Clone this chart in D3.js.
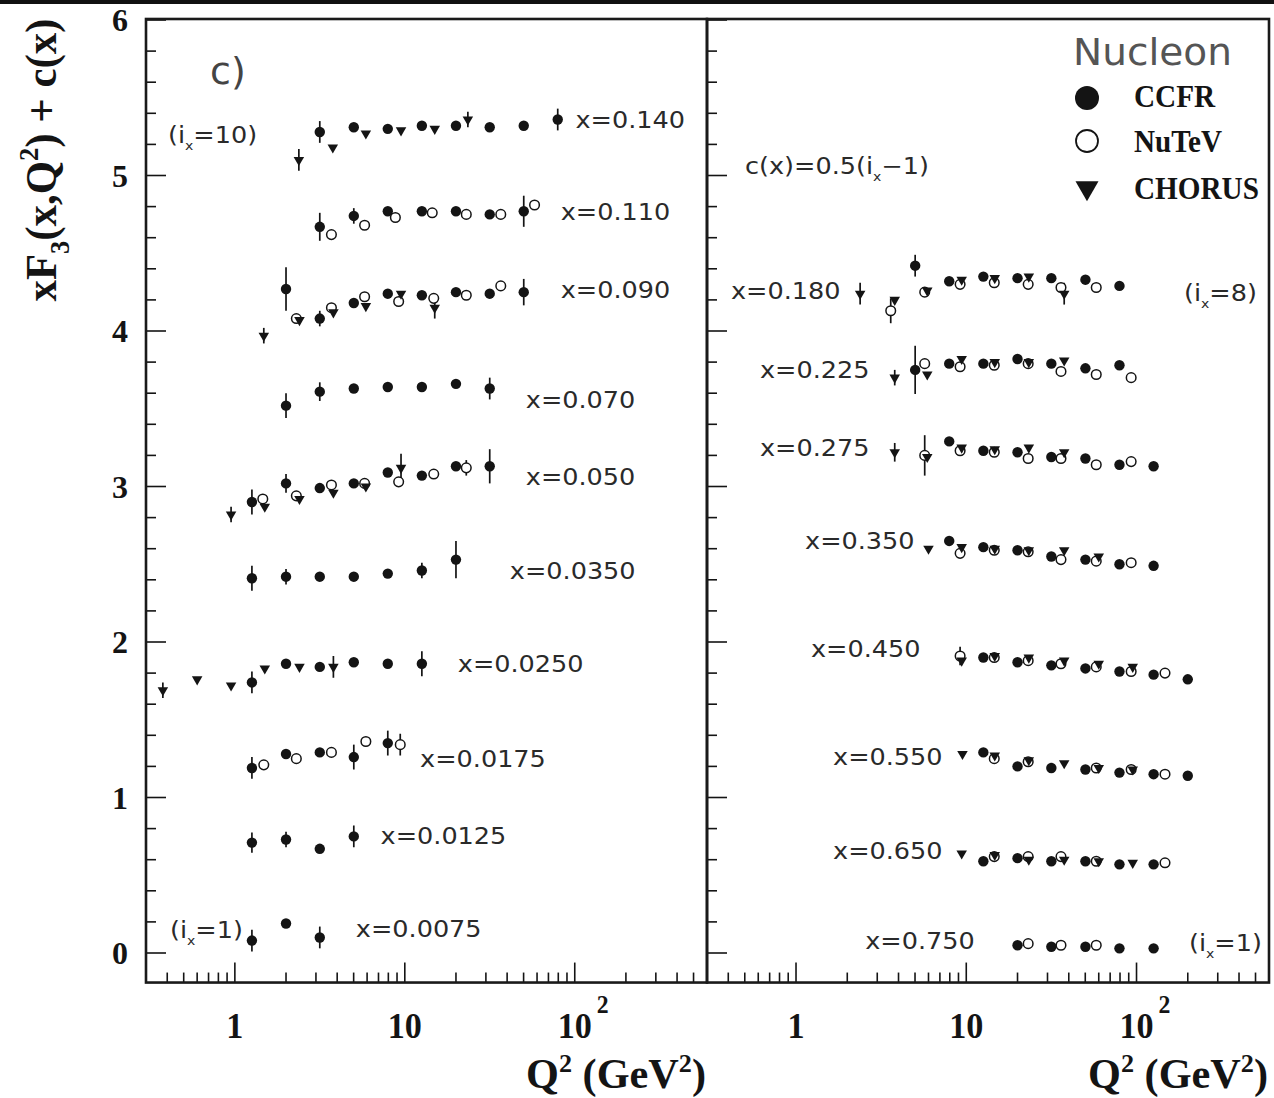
<!DOCTYPE html>
<html><head><meta charset="utf-8">
<script src="https://cdn.jsdelivr.net/npm/d3@7"></script>
<style>body{margin:0;background:#fff}svg{display:block}</style>
</head><body>
<svg id="chart" width="1274" height="1098"></svg>
<script>
// x bins shown in each panel (c(x) = 0.5 (i_x - 1) offset already applied to values)
const leftBins  = ["0.0075","0.0125","0.0175","0.0250","0.0350","0.050","0.070","0.090","0.110","0.140"];
const rightBins = ["0.750","0.650","0.550","0.450","0.350","0.275","0.225","0.180"];

// rows: [x bin, Q2 (GeV2), xF3 + c(x), error]
const ccfr = [
  ["0.140",3.16,5.28,0.07],["0.140",5.01,5.31,0.04],["0.140",7.94,5.30,0.02],["0.140",12.6,5.32,0.02],
  ["0.140",20.0,5.32,0.02],["0.140",31.6,5.31,0.02],["0.140",50.1,5.32,0.02],["0.140",79.4,5.36,0.07],
  ["0.110",3.16,4.67,0.09],["0.110",5.01,4.74,0.05],["0.110",7.94,4.77,0.02],["0.110",12.6,4.77,0.02],
  ["0.110",20.0,4.77,0.02],["0.110",31.6,4.75,0.02],["0.110",50.1,4.77,0.10],
  ["0.090",2.00,4.27,0.14],["0.090",3.16,4.08,0.05],["0.090",5.01,4.18,0.04],["0.090",7.94,4.24,0.04],
  ["0.090",12.6,4.23,0.03],["0.090",20.0,4.25,0.02],["0.090",31.6,4.24,0.04],["0.090",50.1,4.25,0.085],
  ["0.070",2.00,3.52,0.08],["0.070",3.16,3.61,0.06],["0.070",5.01,3.63,0.02],["0.070",7.94,3.64,0.02],
  ["0.070",12.6,3.64,0.02],["0.070",20.0,3.66,0.03],["0.070",31.6,3.63,0.07],
  ["0.050",1.26,2.90,0.08],["0.050",2.00,3.02,0.06],["0.050",3.16,2.99,0.02],["0.050",5.01,3.02,0.02],
  ["0.050",7.94,3.09,0.02],["0.050",12.6,3.07,0.02],["0.050",20.0,3.13,0.03],["0.050",31.6,3.13,0.11],
  ["0.0350",1.26,2.41,0.08],["0.0350",2.00,2.42,0.05],["0.0350",3.16,2.42,0.02],["0.0350",5.01,2.42,0.02],
  ["0.0350",7.94,2.44,0.02],["0.0350",12.6,2.46,0.05],["0.0350",20.0,2.53,0.12],
  ["0.0250",1.26,1.74,0.07],["0.0250",2.00,1.86,0.02],["0.0250",3.16,1.84,0.02],["0.0250",5.01,1.87,0.02],
  ["0.0250",7.94,1.86,0.02],["0.0250",12.6,1.86,0.08],
  ["0.0175",1.26,1.19,0.07],["0.0175",2.00,1.28,0.02],["0.0175",3.16,1.29,0.02],["0.0175",5.01,1.26,0.08],
  ["0.0175",7.94,1.35,0.08],
  ["0.0125",1.26,0.71,0.065],["0.0125",2.00,0.73,0.05],["0.0125",3.16,0.67,0.02],["0.0125",5.01,0.75,0.07],
  ["0.0075",1.26,0.08,0.07],["0.0075",2.00,0.19,0.045],["0.0075",3.16,0.10,0.07],
  ["0.180",5.01,4.42,0.07],["0.180",7.94,4.32,0.02],["0.180",12.6,4.35,0.02],["0.180",20.0,4.34,0.02],
  ["0.180",31.6,4.34,0.02],["0.180",50.1,4.33,0.02],["0.180",79.4,4.29,0.04],
  ["0.225",5.01,3.75,0.155],["0.225",7.94,3.79,0.02],["0.225",12.6,3.79,0.02],["0.225",20.0,3.82,0.02],
  ["0.225",31.6,3.79,0.02],["0.225",50.1,3.76,0.02],["0.225",79.4,3.78,0.02],
  ["0.275",7.94,3.29,0.04],["0.275",12.6,3.23,0.02],["0.275",20.0,3.22,0.02],["0.275",31.6,3.19,0.02],
  ["0.275",50.1,3.18,0.02],["0.275",79.4,3.14,0.02],["0.275",126,3.13,0.02],
  ["0.350",7.94,2.65,0.04],["0.350",12.6,2.61,0.02],["0.350",20.0,2.59,0.02],["0.350",31.6,2.55,0.02],
  ["0.350",50.1,2.53,0.02],["0.350",79.4,2.50,0.02],["0.350",126,2.49,0.02],
  ["0.450",12.6,1.90,0.02],["0.450",20.0,1.87,0.02],["0.450",31.6,1.85,0.02],["0.450",50.1,1.83,0.02],
  ["0.450",79.4,1.81,0.02],["0.450",126,1.79,0.02],["0.450",200,1.76,0.02],
  ["0.550",12.6,1.29,0.02],["0.550",20.0,1.20,0.02],["0.550",31.6,1.19,0.02],["0.550",50.1,1.18,0.02],
  ["0.550",79.4,1.16,0.02],["0.550",126,1.15,0.02],["0.550",200,1.14,0.02],
  ["0.650",12.6,0.59,0.02],["0.650",20.0,0.61,0.02],["0.650",31.6,0.59,0.02],["0.650",50.1,0.59,0.02],
  ["0.650",79.4,0.57,0.02],["0.650",126,0.57,0.02],
  ["0.750",20.0,0.05,0.02],["0.750",31.6,0.04,0.02],["0.750",50.1,0.04,0.02],["0.750",79.4,0.03,0.02],
  ["0.750",126,0.03,0.02]
];

const nutev = [
  ["0.110",3.7,4.62,0.03],["0.110",5.8,4.68,0.02],["0.110",8.8,4.73,0.02],["0.110",14.5,4.76,0.02],
  ["0.110",23.0,4.75,0.02],["0.110",36.7,4.75,0.02],["0.110",58.0,4.81,0.02],
  ["0.090",2.3,4.08,0.03],["0.090",3.7,4.15,0.03],["0.090",5.8,4.22,0.02],["0.090",9.2,4.19,0.02],
  ["0.090",14.8,4.21,0.02],["0.090",23.0,4.23,0.02],["0.090",36.7,4.29,0.02],
  ["0.050",1.46,2.92,0.03],["0.050",2.3,2.94,0.02],["0.050",3.7,3.01,0.02],["0.050",5.8,3.02,0.02],
  ["0.050",9.2,3.03,0.02],["0.050",14.8,3.08,0.02],["0.050",23.0,3.12,0.05],
  ["0.0175",1.48,1.21,0.02],["0.0175",2.3,1.25,0.02],["0.0175",3.7,1.29,0.02],["0.0175",5.9,1.36,0.02],
  ["0.0175",9.4,1.34,0.07],
  ["0.180",3.6,4.13,0.08],["0.180",5.7,4.25,0.02],["0.180",9.2,4.30,0.02],["0.180",14.6,4.31,0.02],
  ["0.180",23.1,4.30,0.02],["0.180",36.0,4.28,0.02],["0.180",58.0,4.28,0.02],
  ["0.225",5.7,3.79,0.03],["0.225",9.2,3.77,0.02],["0.225",14.6,3.78,0.02],["0.225",23.1,3.79,0.02],
  ["0.225",36.0,3.74,0.02],["0.225",58.0,3.72,0.02],["0.225",93.0,3.70,0.02],
  ["0.275",5.7,3.20,0.13],["0.275",9.2,3.23,0.02],["0.275",14.6,3.22,0.02],["0.275",23.1,3.18,0.02],
  ["0.275",36.0,3.18,0.02],["0.275",58.0,3.14,0.02],["0.275",93.0,3.16,0.02],
  ["0.350",9.2,2.57,0.02],["0.350",14.6,2.59,0.02],["0.350",23.1,2.58,0.02],["0.350",36.0,2.53,0.02],
  ["0.350",58.0,2.52,0.02],["0.350",93.0,2.51,0.02],
  ["0.450",9.2,1.91,0.06],["0.450",14.6,1.90,0.02],["0.450",23.1,1.88,0.02],["0.450",36.0,1.86,0.02],
  ["0.450",58.0,1.84,0.02],["0.450",93.0,1.81,0.02],["0.450",147,1.80,0.02],
  ["0.550",14.6,1.25,0.02],["0.550",23.1,1.23,0.02],["0.550",58.0,1.19,0.02],["0.550",93.0,1.18,0.02],
  ["0.550",147,1.15,0.02],
  ["0.650",14.6,0.62,0.02],["0.650",23.1,0.62,0.02],["0.650",36.0,0.62,0.02],["0.650",58.0,0.59,0.02],
  ["0.650",147,0.58,0.02],
  ["0.750",23.1,0.06,0.02],["0.750",36.0,0.05,0.02],["0.750",58.0,0.05,0.02]
];

const chorus = [
  ["0.140",2.38,5.10,0.07],["0.140",3.77,5.18,0.04],["0.140",5.9,5.27,0.04],["0.140",9.5,5.29,0.03],
  ["0.140",15.0,5.30,0.03],["0.140",23.5,5.36,0.05],
  ["0.090",1.48,3.97,0.05],["0.090",2.4,4.07,0.04],["0.090",3.8,4.12,0.04],["0.090",5.9,4.16,0.04],
  ["0.090",9.5,4.24,0.03],["0.090",15.0,4.15,0.07],
  ["0.050",0.95,2.82,0.05],["0.050",1.5,2.87,0.04],["0.050",2.4,2.92,0.04],["0.050",3.8,2.96,0.04],
  ["0.050",5.9,3.00,0.03],["0.050",9.5,3.12,0.09],
  ["0.0250",0.377,1.69,0.05],["0.0250",0.60,1.76,0.03],["0.0250",0.95,1.72,0.03],["0.0250",1.5,1.83,0.03],
  ["0.0250",2.4,1.84,0.03],["0.0250",3.8,1.84,0.07],
  ["0.180",2.38,4.24,0.07],["0.180",3.8,4.20,0.04],["0.180",5.9,4.26,0.02],["0.180",9.4,4.33,0.02],
  ["0.180",14.7,4.34,0.02],["0.180",23.3,4.35,0.02],["0.180",37.6,4.24,0.07],
  ["0.225",3.8,3.70,0.05],["0.225",5.9,3.72,0.02],["0.225",9.4,3.82,0.02],["0.225",14.7,3.80,0.02],
  ["0.225",23.3,3.80,0.02],["0.225",37.6,3.81,0.02],
  ["0.275",3.8,3.22,0.06],["0.275",5.9,3.19,0.02],["0.275",9.4,3.25,0.02],["0.275",14.7,3.24,0.02],
  ["0.275",23.3,3.25,0.02],["0.275",37.6,3.22,0.02],
  ["0.350",6.0,2.60,0.02],["0.350",9.4,2.61,0.02],["0.350",14.7,2.60,0.02],["0.350",23.3,2.59,0.02],
  ["0.350",37.6,2.59,0.02],["0.350",60.0,2.55,0.02],
  ["0.450",9.4,1.88,0.02],["0.450",14.7,1.91,0.02],["0.450",23.3,1.90,0.02],["0.450",37.6,1.88,0.02],
  ["0.450",60.0,1.86,0.02],["0.450",95.0,1.84,0.02],
  ["0.550",9.5,1.28,0.02],["0.550",14.7,1.27,0.02],["0.550",23.3,1.24,0.02],["0.550",37.6,1.22,0.02],
  ["0.550",60.0,1.19,0.02],["0.550",95.0,1.18,0.02],
  ["0.650",9.4,0.64,0.02],["0.650",14.7,0.63,0.02],["0.650",23.3,0.60,0.02],["0.650",37.6,0.60,0.02],
  ["0.650",60.0,0.59,0.02],["0.650",95.0,0.58,0.02]
];

const xTickLabels = [[1,"1",""],[10,"10",""],[100,"10","2"]];
const yTickLabels = [0,1,2,3,4,5,6];
const legendEntries = ["CCFR","NuTeV","CHORUS"];

// where each "x=..." label sits, in data coordinates [Q2, value]
const labelSpots = {
  "0.140":[101,5.357], "0.110":[82.7,4.765], "0.090":[82.7,4.264], "0.070":[51.5,3.556],
  "0.050":[51.5,3.061], "0.0350":[41.5,2.457], "0.0250":[20.5,1.859], "0.0175":[12.3,1.248],
  "0.0125":[7.2,0.752], "0.0075":[5.15,0.154],
  "0.180":[0.415,4.257], "0.225":[0.614,3.749], "0.275":[0.614,3.248], "0.350":[1.13,2.650],
  "0.450":[1.225,1.955], "0.550":[1.65,1.260], "0.650":[1.65,0.656], "0.750":[2.55,0.077]
};

const SERIF = "'Liberation Serif','Times New Roman',serif";
const SANS = "'DejaVu Sans',sans-serif";
const INK = "#141414";

const svg = d3.select("#chart");
svg.append("rect").attr("width",1274).attr("height",1098).attr("fill","#fff");
svg.append("rect").attr("x",0).attr("y",0).attr("width",1274).attr("height",4).attr("fill","#111");

const y = d3.scaleLinear().domain([0,6]).range([953,20]);
const yBottom = -0.19;

const panels = [
  {bins:leftBins,  x:d3.scaleLog().domain([0.3,600]).range([146,707])},
  {bins:rightBins, x:d3.scaleLog().domain([0.3,600]).range([707,1269])}
];
function panelOf(bin){ return panels.find(p => p.bins.includes(bin)); }

// text with sub/superscripts, optionally stretched to a given width
function richText(parent, parts, o){
  const g = parent.append("g");
  const t = g.append("text").attr("font-family",o.family).attr("font-size",o.size)
    .attr("font-weight",o.weight||"normal").attr("fill",o.fill||INK);
  let shift = 0;
  parts.forEach(p => {
    const [s,k] = Array.isArray(p) ? p : [p,""];
    const target = k==="sub" ? o.size*0.3 : k==="sup" ? -o.size*(o.supRaise||0.42) : 0;
    const ts = t.append("tspan").text(s).attr("dy", target-shift);
    shift = target;
    if (k) ts.attr("font-size", o.size*(o.scriptScale||0.62));
  });
  const bb = t.node().getBBox();
  const sx = o.width ? o.width/bb.width : (o.sx||1);
  const w = bb.width*sx;
  const ax = o.anchor==="end" ? -w : o.anchor==="middle" ? -w/2 : 0;
  t.attr("transform",`translate(${ax-bb.x*sx},0) scale(${sx},1)`);
  g.attr("transform",`translate(${o.x},${o.y})`+(o.rotate?` rotate(${o.rotate})`:""));
  return g;
}

// frames and ticks
panels.forEach((p,i) => {
  const g = svg.append("g");
  const [xa,xb] = p.x.range();
  // y ticks every 0.2, long at integers
  g.selectAll("line.yt").data(y.ticks(30)).join("line")
    .attr("x1",xa).attr("x2",d => xa + (Math.abs(d-Math.round(d))<1e-6 ? 20 : 10))
    .attr("y1",d=>y(d)).attr("y2",d=>y(d)).attr("stroke",INK).attr("stroke-width",1.6);
  // log x ticks
  g.selectAll("line.xt").data(p.x.ticks()).join("line")
    .attr("x1",d=>p.x(d)).attr("x2",d=>p.x(d))
    .attr("y1",y(yBottom)).attr("y2",d => y(yBottom) - (Math.abs(Math.log10(d)-Math.round(Math.log10(d)))<1e-6 ? 20 : 10))
    .attr("stroke",INK).attr("stroke-width",1.6);
  g.append("rect").attr("x",xa).attr("y",y(6)-1).attr("width",xb-xa).attr("height",y(yBottom)-y(6)+1)
    .attr("fill","none").attr("stroke","#1a1a1a").attr("stroke-width",2.6);

  // x tick labels
  xTickLabels.forEach(([v,s,sup]) => {
    const lab = richText(svg,[s],{x:p.x(v),y:1038,size:36,family:SERIF,weight:"bold",anchor:"middle",sx:0.95});
    if (sup){
      const w = lab.node().getBBox().width;
      richText(svg,[sup],{x:p.x(v)+w/2+5,y:1013,size:25,family:SERIF,weight:"bold",anchor:"start",sx:0.95});
    }
  });
  // axis title
  richText(svg,["Q",["2","sup"]," (GeV",["2","sup"],")"],
    {x:xb-1,y:1088,size:42,family:SERIF,weight:"bold",anchor:"end",width:180,supRaise:0.38});
});

// y tick labels
yTickLabels.forEach(v => {
  richText(svg,[String(v)],{x:128,y:y(v)+11,size:32,family:SERIF,weight:"bold",anchor:"end"});
});
// y axis title
richText(svg,["xF",["3","sub"],"(x,Q",["2","sup"],") + c(x)"],
  {x:56,y:160,size:44,family:SERIF,weight:"bold",anchor:"middle",width:283,rotate:-90});

// data
const layer = svg.append("g");
function errBars(rows){
  layer.append("g").selectAll("line").data(rows.filter(r=>r[3]>0.045)).join("line")
    .attr("x1",r=>panelOf(r[0]).x(r[1])).attr("x2",r=>panelOf(r[0]).x(r[1]))
    .attr("y1",r=>y(r[2]-r[3])).attr("y2",r=>y(r[2]+r[3]))
    .attr("stroke",INK).attr("stroke-width",1.7);
}
errBars(ccfr); errBars(nutev); errBars(chorus);

layer.append("g").selectAll("circle").data(ccfr).join("circle")
  .attr("cx",r=>panelOf(r[0]).x(r[1])).attr("cy",r=>y(r[2])).attr("r",5.2).attr("fill",INK);
layer.append("g").selectAll("circle").data(nutev).join("circle")
  .attr("cx",r=>panelOf(r[0]).x(r[1])).attr("cy",r=>y(r[2])).attr("r",4.8)
  .attr("fill","#fff").attr("stroke",INK).attr("stroke-width",1.5);
const tri = d3.symbol(d3.symbolTriangle).size(48);
layer.append("g").selectAll("path").data(chorus).join("path")
  .attr("d",tri).attr("fill",INK)
  .attr("transform",r=>`translate(${panelOf(r[0]).x(r[1])},${y(r[2])}) rotate(180)`);

// bin labels
Object.entries(labelSpots).forEach(([bin,[q,v]]) => {
  const p = panelOf(bin);
  richText(svg,["x="+bin],{x:p.x(q),y:y(v)+8,size:23,family:SANS,fill:"#2a2a2a",sx:1.11});
});

// annotations
const ann = {size:23,family:SANS,fill:"#2a2a2a",sx:1.11,scriptScale:0.55};
richText(svg,["(i",["x","sub"],"=10)"],Object.assign({x:168,y:143},ann));
richText(svg,["(i",["x","sub"],"=1)"],Object.assign({x:170,y:938},ann));
richText(svg,["(i",["x","sub"],"=8)"],Object.assign({x:1184,y:301},ann));
richText(svg,["(i",["x","sub"],"=1)"],Object.assign({x:1189,y:951},ann));
richText(svg,["c(x)=0.5(i",["x","sub"],"\u22121)"],Object.assign({x:745,y:174},ann));
richText(svg,["c)"],{x:210,y:84,size:38,family:SANS,fill:"#444",sx:1.0});

// legend
richText(svg,["Nucleon"],{x:1073,y:65,size:37,family:SANS,fill:"#555",width:159});
const lg = svg.append("g");
lg.append("circle").attr("cx",1087).attr("cy",98).attr("r",12).attr("fill",INK);
lg.append("circle").attr("cx",1087).attr("cy",141).attr("r",11).attr("fill","#fff").attr("stroke",INK).attr("stroke-width",1.8);
lg.append("path").attr("d",d3.symbol(d3.symbolTriangle).size(230)).attr("fill",INK)
  .attr("transform","translate(1087,188) rotate(180)");
const legendRows = [[107,82],[152,88],[199,125]];
legendEntries.forEach((s,i) => {
  richText(svg,[s],{x:1134,y:legendRows[i][0],size:32,family:SERIF,weight:"bold",width:legendRows[i][1]});
});
</script>
</body></html>
